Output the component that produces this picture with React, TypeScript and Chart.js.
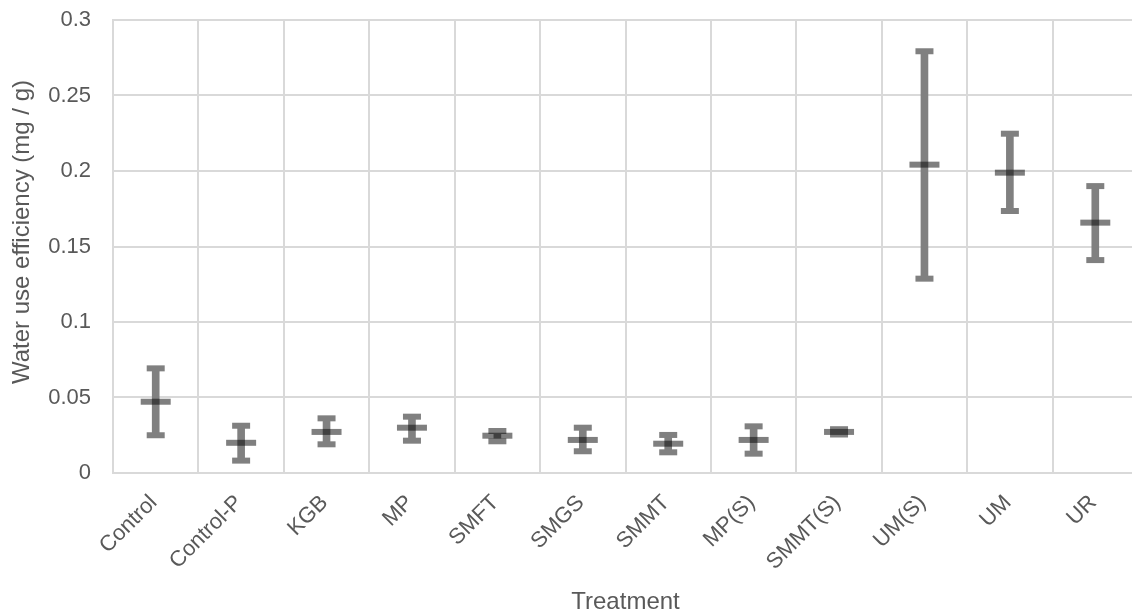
import React, { useEffect, useRef } from "react";
import { Chart, registerables } from "chart.js";

Chart.register(...registerables);

const categories = ["Control", "Control-P", "KGB", "MP", "SMFT", "SMGS", "SMMT", "MP(S)", "SMMT(S)", "UM(S)", "UM", "UR"];
const means = [0.0472, 0.02, 0.0272, 0.03, 0.0247, 0.0219, 0.0194, 0.0219, 0.0272, 0.2042, 0.1989, 0.1658];
const upper = [0.0693, 0.0313, 0.0362, 0.0373, 0.0278, 0.03, 0.0252, 0.0309, 0.029, 0.2793, 0.2247, 0.19];
const lower = [0.025, 0.0082, 0.019, 0.0214, 0.021, 0.0144, 0.0137, 0.0128, 0.0255, 0.1287, 0.1735, 0.141];
const yTicks = [0, 0.05, 0.1, 0.15, 0.2, 0.25, 0.3];
const yTitle = "Water use efficiency (mg / g)";
const xTitle = "Treatment";

const FONT = "'Liberation Sans', Arial, sans-serif";
const TEXT = "#595959";
const GRID = "#d9d9d9";
const BAR = "#808080";

const yTitlePlugin = {
  id: "yTitlePlugin",
  afterDraw(chart: any) {
    const ctx = chart.ctx;
    ctx.save();
    ctx.translate(22, 232);
    ctx.rotate(-Math.PI / 2);
    ctx.font = `24px ${FONT}`;
    ctx.fillStyle = TEXT;
    ctx.textAlign = "center";
    ctx.textBaseline = "middle";
    ctx.fillText(yTitle, 0, 0);
    ctx.restore();
  },
};

export default function App() {
  const ref = useRef<HTMLCanvasElement | null>(null);
  useEffect(() => {
    if (!ref.current) return;
    const chart = new Chart(ref.current, {
      type: "bar",
      data: {
        labels: categories,
        datasets: [
          {
            type: "line",
            label: "Mean",
            data: means,
            showLine: false,
            pointStyle: "line",
            pointRadius: 15,
            pointBorderWidth: 6,
            pointBorderColor: "rgba(0,0,0,0.5)",
            pointBackgroundColor: "rgba(0,0,0,0.5)",
            order: 0,
          } as any,
          {
            type: "line",
            label: "Upper",
            data: upper,
            showLine: false,
            pointStyle: "line",
            pointRadius: 9,
            pointBorderWidth: 6,
            pointBorderColor: BAR,
            order: 1,
          } as any,
          {
            type: "line",
            label: "Lower",
            data: lower,
            showLine: false,
            pointStyle: "line",
            pointRadius: 9,
            pointBorderWidth: 6,
            pointBorderColor: BAR,
            order: 1,
          } as any,
          {
            type: "bar",
            label: "Range",
            data: lower.map((l, i) => [l, upper[i]]),
            backgroundColor: BAR,
            barThickness: 7,
            order: 2,
          } as any,
        ],
      },
      options: {
        responsive: false,
        animation: false,
        events: [],
        layout: { autoPadding: false, padding: { top: 20, right: 2, bottom: 0, left: 0 } },
        plugins: { legend: { display: false }, tooltip: { enabled: false } },
        scales: {
          x: {
            offset: true,
            grid: { color: GRID, lineWidth: 2, offset: true, drawTicks: false },
            border: { color: GRID, width: 2 },
            ticks: {
              color: TEXT,
              font: { family: FONT, size: 22 },
              minRotation: 45,
              maxRotation: 45,
              padding: 17,
              labelOffset: -2,
              autoSkip: false,
            },
            title: {
              display: true,
              text: xTitle,
              color: TEXT,
              font: { family: FONT, size: 24 },
              padding: { top: 0, bottom: -2 },
            },
            afterFit: (s: any) => {
              s.height = 142;
              s.paddingLeft = 0;
              s.paddingRight = 0;
            },
          },
          y: {
            min: 0,
            max: 0.3,
            afterBuildTicks: (s: any) => {
              s.ticks = yTicks.map((v) => ({ value: v }));
            },
            grid: { color: GRID, lineWidth: 2, drawTicks: false },
            border: { color: GRID, width: 2 },
            ticks: {
              color: TEXT,
              font: { family: FONT, size: 22 },
              padding: 22,
              callback: (v: any) => String(Number(v)),
            },
            title: { display: false },
            afterFit: (s: any) => {
              s.width = 113;
              s.paddingTop = 0;
              s.paddingBottom = 0;
            },
          },
        },
      },
      plugins: [yTitlePlugin],
    });
    return () => chart.destroy();
  }, []);
  return (
    <div style={{ position: "fixed", left: 0, top: 0, width: 1132, height: 615, overflow: "hidden", background: "#fff" }}>
      <canvas ref={ref} width={1140} height={615} style={{ display: "block", width: 1140, height: 615 }} />
    </div>
  );
}
